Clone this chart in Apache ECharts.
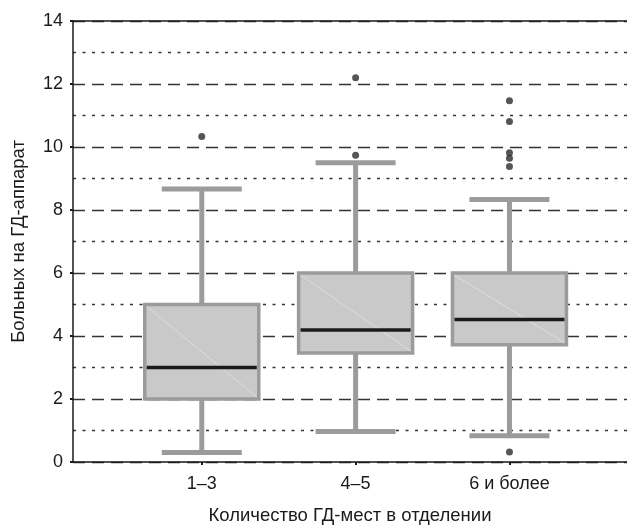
<!DOCTYPE html>
<html>
<head>
<meta charset="utf-8">
<script src="https://cdn.jsdelivr.net/npm/echarts@6/dist/echarts.min.js"></script>
<style>
  html, body { margin: 0; padding: 0; background: #fff; }
  #chart { width: 627px; height: 525px; }
</style>
</head>
<body>
<div id="chart"></div>
<script>
// Groups by number of dialysis places per department
const categories = ['1–3', '4–5', '6 и более'];

// Five-number summaries per group: [min whisker, Q1, median, Q3, max whisker]
const group13 = [0.30, 2.00, 3.00, 5.00, 8.67];
const group45 = [0.97, 3.46, 4.19, 6.00, 9.50];
const group6plus = [0.83, 3.72, 4.52, 6.00, 8.33];

// Outlying values per group
const outliers13 = [10.33];
const outliers45 = [9.74, 12.20];
const outliers6plus = [0.32, 9.38, 9.64, 9.82, 10.81, 11.47];

// Value axis ticks
const yTicks = [0, 2, 4, 6, 8, 10, 12, 14];

const summaries = [group13, group45, group6plus];
const outlierGroups = [outliers13, outliers45, outliers6plus];

const boxData = summaries.map((s, i) => [i].concat(s));
const outlierData = [];
outlierGroups.forEach((list, i) => list.forEach(v => outlierData.push([i, v])));

const GRAY = '#9b9b9b';
const FILL = '#c9c9c9';

function renderBox(params, api) {
  const x = api.value(0);
  const pMin = api.coord([x, api.value(1)]);
  const pQ1 = api.coord([x, api.value(2)]);
  const pMed = api.coord([x, api.value(3)]);
  const pQ3 = api.coord([x, api.value(4)]);
  const pMax = api.coord([x, api.value(5)]);
  const cx = pMed[0];
  const boxW = 114;
  const capW = 80;
  const capH = 5;
  return {
    type: 'group',
    children: [
      { type: 'line', shape: { x1: cx, y1: pMin[1], x2: cx, y2: pQ1[1] },
        style: { stroke: GRAY, lineWidth: 5 } },
      { type: 'line', shape: { x1: cx, y1: pQ3[1], x2: cx, y2: pMax[1] },
        style: { stroke: GRAY, lineWidth: 5 } },
      { type: 'rect', shape: { x: cx - capW / 2, y: pMin[1] - capH / 2, width: capW, height: capH },
        style: { fill: GRAY } },
      { type: 'rect', shape: { x: cx - capW / 2, y: pMax[1] - capH / 2, width: capW, height: capH },
        style: { fill: GRAY } },
      { type: 'rect', shape: { x: cx - boxW / 2, y: pQ3[1], width: boxW, height: pQ1[1] - pQ3[1] },
        style: { fill: FILL, stroke: GRAY, lineWidth: 3.5 } },
      { type: 'line', shape: { x1: cx - boxW / 2 + 2, y1: pQ3[1] + 2, x2: cx + boxW / 2 - 2, y2: pQ1[1] - 2 },
        style: { stroke: '#e2e2e2', lineWidth: 0.8 } },
      { type: 'line', shape: { x1: cx - boxW / 2 + 2, y1: pMed[1], x2: cx + boxW / 2 - 2, y2: pMed[1] },
        style: { stroke: '#1a1a1a', lineWidth: 3.5 } }
    ]
  };
}

const chart = echarts.init(document.getElementById('chart'), null, { renderer: 'canvas' });
const font = '"Liberation Sans", Arial, sans-serif';

chart.setOption({
  animation: false,
  backgroundColor: '#ffffff',
  grid: { left: 73, right: 0, top: 21, bottom: 63, containLabel: false, outerBoundsMode: 'none' },
  xAxis: [
    {
      type: 'value',
      min: -0.837,
      max: 2.764,
      name: 'Количество ГД-мест в отделении',
      nameLocation: 'middle',
      nameGap: 44,
      nameTextStyle: { fontFamily: font, fontSize: 18.5, color: '#1a1a1a' },
      axisLine: { show: true, onZero: false, lineStyle: { color: '#1a1a1a', width: 1.5 } },
      axisTick: { show: true, customValues: [0, 1, 2], length: 3, lineStyle: { color: '#1a1a1a', width: 2 } },
      axisLabel: {
        show: true,
        customValues: [0, 1, 2],
        formatter: v => categories[Math.round(v)] || '',
        margin: 13,
        fontFamily: font, fontSize: 18, color: '#1a1a1a'
      },
      splitLine: { show: false }
    },
    {
      type: 'value',
      position: 'top',
      min: -0.837,
      max: 2.764,
      axisLine: { show: true, onZero: false, lineStyle: { color: '#1a1a1a', width: 1.5 } },
      axisTick: { show: false },
      axisLabel: { show: false },
      splitLine: { show: false }
    }
  ],
  yAxis: {
    type: 'value',
    min: yTicks[0],
    max: yTicks[yTicks.length - 1],
    interval: 2,
    name: 'Больных на ГД-аппарат',
    nameLocation: 'middle',
    nameGap: 45,
    nameTextStyle: { fontFamily: font, fontSize: 18.5, color: '#1a1a1a' },
    axisLine: { show: true, onZero: false, lineStyle: { color: '#1a1a1a', width: 1.5 } },
    axisTick: { show: true, length: 3, lineStyle: { color: '#1a1a1a', width: 2 } },
    axisLabel: { margin: 10, fontFamily: font, fontSize: 18, color: '#1a1a1a' },
    splitLine: { show: true, lineStyle: { color: '#333333', width: 1.3, type: [12, 7] } },
    minorTick: { show: false, splitNumber: 2 },
    minorSplitLine: { show: true, lineStyle: { color: '#333333', width: 1.3, type: [3, 6.5] } }
  },
  series: [
    {
      type: 'custom',
      renderItem: renderBox,
      data: boxData,
      encode: { x: 0, y: [1, 2, 3, 4, 5] },
      clip: false
    },
    {
      type: 'scatter',
      data: outlierData,
      symbol: 'circle',
      symbolSize: 7,
      itemStyle: { color: '#2b2b2b' }
    }
  ]
});
</script>
</body>
</html>
